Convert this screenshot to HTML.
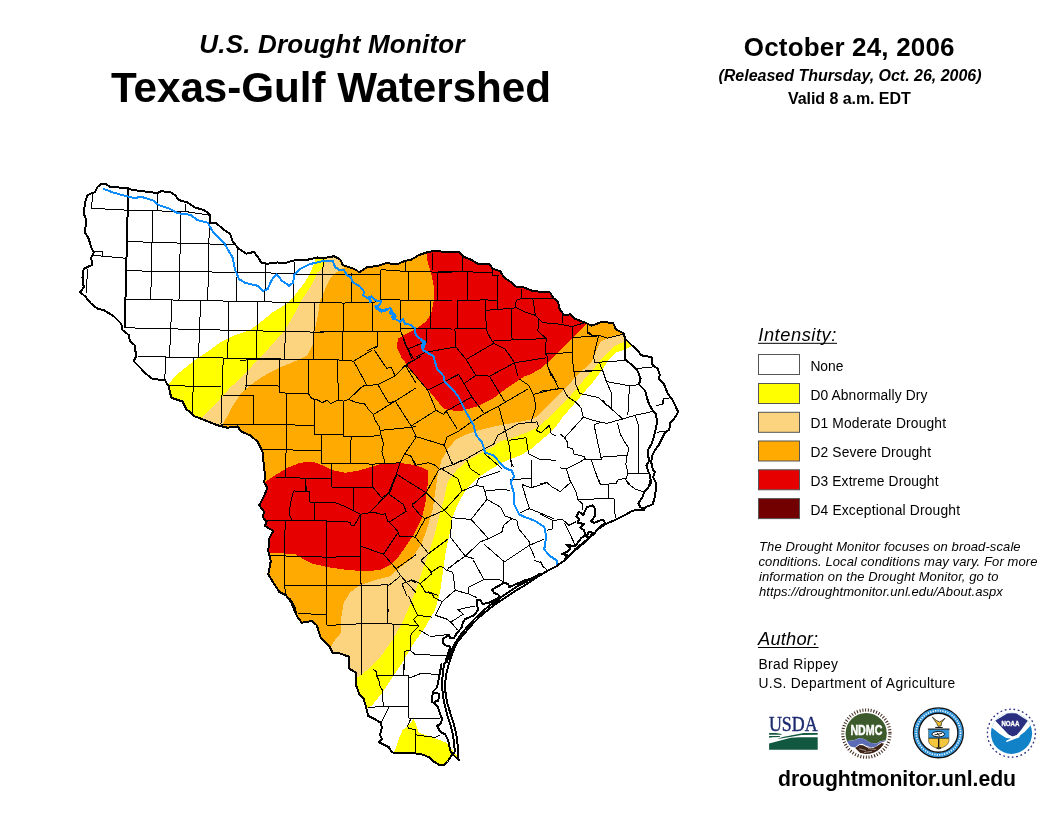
<!DOCTYPE html>
<html lang="en">
<head>
<meta charset="utf-8">
<title>U.S. Drought Monitor - Texas-Gulf Watershed</title>
<style>
html,body{margin:0;padding:0;background:#fff;}
body{width:1056px;height:816px;position:relative;overflow:hidden;font-family:"Liberation Sans",Arial,sans-serif;color:#000;}
.t{position:absolute;white-space:nowrap;line-height:1;}
.c{text-align:center;}
.map{position:absolute;left:0;top:0;}
.cty{fill:none;stroke:#000;stroke-width:1;stroke-linejoin:round;shape-rendering:crispEdges;}
.med{fill:none;stroke:#000;stroke-width:2;shape-rendering:crispEdges;}
.riv{fill:none;stroke:#0a8cff;stroke-width:2;stroke-linejoin:round;stroke-linecap:round;shape-rendering:crispEdges;}
.riv2{fill:none;stroke:#0a8cff;shape-rendering:crispEdges;stroke-width:3;stroke-linejoin:round;stroke-linecap:round;}
.thk{fill:none;stroke:#000;stroke-width:2;stroke-linejoin:round;stroke-linecap:round;shape-rendering:crispEdges;}
.out{fill:none;stroke:#000;stroke-width:2;stroke-linejoin:round;shape-rendering:crispEdges;}
.gap{fill:none;stroke:#fff;stroke-width:1.2;stroke-linecap:round;stroke-linejoin:round;}
.sw{position:absolute;left:758px;width:40px;height:19px;border:1px solid #333;}
.lb{font-size:13.3px;left:810px;}
u{text-decoration:underline;text-decoration-thickness:1px;text-underline-offset:2px;}
</style>
</head>
<body>
<svg class="map" width="1056" height="816" viewBox="0 0 1056 816">
<defs><clipPath id="basin"><polygon points="101.25,183.75 106.25,184.25 110.00,187.00 127.50,188.00 132.50,190.00 157.50,193.00 161.25,191.25 170.00,192.00 175.00,195.00 178.75,200.00 187.50,202.50 195.00,207.50 203.75,210.00 210.00,214.50 210.00,222.50 216.25,223.00 222.50,228.75 230.00,233.75 232.50,241.25 238.75,248.75 246.25,253.75 253.75,252.00 257.50,256.25 261.25,262.50 267.50,263.75 277.50,262.50 285.00,263.00 293.75,260.50 306.25,260.00 317.50,257.50 324.00,258.00 334.00,256.25 340.25,259.50 342.75,265.00 350.25,267.50 356.50,270.00 359.00,272.50 366.50,267.50 379.00,265.50 386.50,263.00 396.50,264.50 404.00,261.25 411.50,259.50 419.00,255.00 426.50,252.50 435.25,250.50 444.00,252.00 459.00,252.00 462.75,256.25 471.50,260.00 479.00,264.50 489.00,263.75 492.75,268.75 500.25,271.25 504.00,277.50 511.50,282.50 516.50,287.00 524.00,287.50 531.50,290.50 541.50,292.00 550.25,292.50 553.00,297.60 558.20,302.20 559.80,309.80 564.30,315.00 570.40,314.30 575.00,318.90 585.60,322.70 591.70,325.70 600.80,322.20 613.00,322.70 616.00,329.50 623.60,333.30 625.10,338.60 631.20,344.70 637.30,350.00 641.10,355.30 646.40,356.10 651.70,357.60 652.50,364.50 657.80,369.00 660.00,375.10 658.50,378.10 663.90,384.20 667.70,393.30 672.50,400.00 675.00,405.00 678.10,411.90 675.00,417.50 670.00,423.10 669.40,429.40 665.00,432.50 661.90,438.75 658.75,445.00 655.00,450.00 651.90,456.25 651.25,462.50 653.10,470.00 655.00,471.90 653.10,477.50 656.25,483.10 655.60,491.25 654.40,498.75 652.50,504.40 646.25,506.90 643.75,510.00 632.50,510.60 625.00,515.00 615.00,520.00 605.00,524.40 598.75,528.75 593.75,533.75 587.50,540.00 580.00,546.25 572.50,552.50 565.00,560.00 556.25,566.25 547.50,570.90 540.00,575.25 532.50,580.25 525.00,585.25 517.50,589.60 510.00,594.60 502.50,599.60 495.00,604.60 487.50,610.25 480.00,616.50 472.50,624.00 465.00,632.75 457.50,642.00 452.50,652.50 448.75,664.00 446.25,674.00 445.00,684.00 445.60,694.00 447.50,704.00 450.60,714.00 453.75,724.00 456.25,734.00 457.50,744.00 458.10,756.50 458.75,760.25 452.50,754.00 447.50,761.50 443.10,765.50 438.75,764.60 433.75,761.50 428.75,757.10 422.50,754.60 415.00,753.40 407.50,752.75 402.50,753.40 396.25,753.40 391.90,752.10 388.75,747.10 383.75,744.60 378.75,742.10 381.90,739.00 380.00,735.25 381.90,727.75 380.60,722.75 376.70,720.20 368.30,716.00 365.80,706.00 363.30,697.70 359.20,694.30 355.80,684.30 355.80,672.70 349.20,668.50 349.20,656.80 340.00,653.50 332.50,652.70 329.20,646.00 320.80,637.70 316.70,625.20 311.70,621.00 301.70,622.70 296.70,616.00 294.20,606.00 290.00,599.30 295.00,612.00 291.70,602.70 285.80,595.20 279.20,591.80 273.30,582.70 268.30,574.30 270.80,561.00 268.30,551.00 269.20,538.50 273.30,531.00 265.00,526.00 266.70,521.80 262.50,516.80 264.20,511.80 259.20,505.20 263.30,497.70 267.50,487.70 264.20,482.70 265.00,476.00 263.75,464.00 262.50,451.50 257.50,441.50 250.00,435.25 241.25,431.50 237.50,426.50 227.50,427.75 217.50,425.25 205.00,420.25 195.00,416.50 186.25,409.00 182.50,401.50 171.25,397.75 168.75,386.50 165.00,380.25 152.50,379.00 146.25,374.00 140.00,367.50 133.75,361.25 136.25,356.25 134.50,345.00 130.00,341.25 128.75,335.00 122.50,330.00 121.25,323.75 113.75,316.25 103.75,310.00 97.50,308.75 91.25,303.75 85.00,296.25 80.00,292.00 83.75,287.50 82.50,277.50 83.75,268.75 92.00,265.00 91.25,257.50 93.75,252.50 91.25,247.50 88.75,238.75 85.00,232.50 86.25,220.00 83.75,213.75 85.00,202.50 87.50,195.00 95.00,192.00 97.50,187.00"/></clipPath></defs>
<g clip-path="url(#basin)" shape-rendering="crispEdges">
<polygon points="316.00,240.00 315.00,261.25 310.00,273.75 303.75,283.75 295.00,295.00 285.00,305.00 272.50,312.50 260.00,322.50 250.00,330.00 235.00,335.00 220.00,342.50 210.00,350.00 195.00,360.00 177.50,374.00 167.50,385.00 100.00,420.00 150.00,500.00 240.00,640.00 340.00,720.00 367.50,707.50 372.50,705.00 382.50,692.50 392.50,677.50 402.50,662.50 412.50,645.00 425.00,627.50 435.00,610.00 440.00,592.50 442.50,575.00 445.25,554.00 449.50,534.00 452.75,516.50 459.00,501.50 466.50,489.00 476.50,479.00 489.00,470.25 502.50,462.50 511.25,458.75 521.25,455.00 531.25,448.75 540.00,441.25 547.50,435.00 555.00,427.50 562.50,417.50 570.00,408.75 577.50,400.00 585.00,391.25 592.50,382.50 600.00,372.50 605.00,365.50 609.90,358.40 616.00,352.30 624.30,350.00 632.00,346.00 650.00,330.00 640.00,240.00" fill="#ffff00"/>
<polygon points="413.75,719.00 416.25,725.25 418.75,732.75 430.00,736.50 440.00,740.25 446.25,742.75 455.00,753.38 462.50,759.00 447.50,769.00 422.50,764.00 392.50,756.50 393.75,752.75 395.00,750.25 398.75,739.00 402.50,730.25 407.50,726.50" fill="#ffff00"/>
<polygon points="327.00,240.00 326.00,259.00 324.00,266.25 317.50,272.50 310.00,287.50 300.00,302.50 293.75,315.00 285.00,330.00 275.00,341.25 265.00,352.50 255.00,362.50 245.00,374.00 230.00,387.75 220.00,399.00 207.50,411.50 200.00,419.00 150.00,450.00 240.00,640.00 340.00,700.00 356.25,680.00 357.50,677.50 367.50,670.00 380.00,657.50 392.50,640.00 402.50,622.50 410.00,605.00 417.50,585.00 422.50,570.00 426.50,559.00 434.00,536.50 439.00,516.50 444.00,499.00 447.75,481.50 456.50,470.25 466.50,461.50 479.00,454.00 494.00,446.50 500.00,441.25 510.00,438.75 520.00,435.00 530.00,431.25 538.75,426.25 547.50,418.75 555.00,411.25 562.50,403.75 570.00,396.25 577.50,387.50 585.00,378.75 592.50,370.00 598.75,362.50 602.00,358.00 608.40,352.30 614.50,346.20 622.80,342.40 628.00,340.00 650.00,320.00 640.00,240.00" fill="#fcd37f"/>
<polygon points="336.00,240.00 336.00,257.00 340.00,262.50 343.75,267.50 336.25,272.50 331.25,276.90 327.50,283.75 323.75,292.50 320.00,301.00 318.00,315.00 315.00,330.00 312.50,345.00 307.50,355.00 295.00,361.25 280.00,367.50 267.00,374.00 255.00,381.50 242.50,391.50 232.50,406.50 223.75,422.75 200.00,440.00 240.00,620.00 320.00,660.00 331.25,646.25 335.00,640.00 341.25,632.50 341.25,617.50 343.75,602.50 350.00,592.50 360.00,585.00 375.00,580.00 390.00,576.25 400.00,567.50 411.50,559.00 421.50,544.00 427.75,526.50 432.75,509.00 435.25,491.50 437.75,474.00 441.50,460.25 447.75,449.00 456.50,439.00 466.70,434.20 476.70,430.80 490.00,427.50 503.30,424.50 510.00,423.50 518.75,421.90 528.75,420.00 536.25,416.90 543.75,410.00 552.50,401.25 560.00,393.75 567.50,386.25 575.00,377.50 585.00,368.10 591.25,362.50 593.50,358.00 596.20,350.80 600.80,341.70 606.90,338.60 614.50,335.60 622.80,334.00 630.00,333.00 640.00,300.00 600.00,240.00" fill="#ffaa00"/>
<polygon points="426.50,240.00 426.50,253.75 427.75,262.50 431.50,275.00 434.00,287.50 434.00,300.00 431.50,312.50 426.50,321.25 416.50,328.75 406.50,333.75 397.75,338.75 397.00,347.50 401.50,357.50 409.00,367.50 414.00,374.00 426.50,387.75 444.00,409.00 459.00,411.50 476.50,406.50 494.00,397.75 509.00,386.50 524.00,376.50 531.00,374.00 540.00,369.00 549.10,361.40 558.20,352.30 567.40,343.20 576.50,334.00 585.60,325.00 600.00,310.00 560.00,260.00" fill="#e60000"/>
<polygon points="250.00,481.50 266.00,481.50 275.00,475.25 287.50,467.75 300.00,462.75 312.50,461.50 322.50,465.25 332.50,470.25 345.00,472.75 360.00,470.25 384.00,463.00 399.00,462.75 416.50,465.25 427.75,470.25 427.75,484.00 425.25,504.00 421.50,519.00 414.00,534.00 404.00,549.00 397.50,558.00 390.00,565.00 380.00,570.00 365.00,571.25 347.50,570.00 330.00,567.50 312.50,563.75 305.00,560.25 295.00,554.00 269.50,552.75 250.00,552.00" fill="#e60000"/>
</g>
<g clip-path="url(#basin)">
<polyline class="cty" points="91.48,208.27 128.98,210.27"/>
<polyline class="cty" points="92.73,194.02 91.48,208.27"/>
<polyline class="cty" points="92.23,255.27 126.48,258.27"/>
<polyline class="cty" points="87.73,268.77 86.03,293.27"/>
<polyline class="cty" points="93.98,251.27 102.73,251.77 102.73,256.27"/>
<polyline class="cty" points="128.98,210.27 185.23,211.52 210.23,215.27"/>
<polyline class="cty" points="127.23,241.52 235.23,244.77"/>
<polyline class="cty" points="125.73,270.77 265.23,272.77 293.98,274.02 351.23,274.27"/>
<polyline class="cty" points="124.73,299.02 285.23,302.27 324.23,302.27"/>
<polyline class="cty" points="124.73,327.77 285.23,331.52 324.23,332.27"/>
<polyline class="cty" points="137.73,356.52 324.23,359.77"/>
<polyline class="cty" points="157.73,193.27 157.73,210.27"/>
<polyline class="cty" points="185.23,204.02 185.23,211.52"/>
<polyline class="cty" points="152.73,210.77 150.73,299.77"/>
<polyline class="cty" points="180.98,211.52 178.98,300.27"/>
<polyline class="cty" points="209.48,215.27 207.73,300.77"/>
<polyline class="cty" points="237.73,244.77 236.48,301.52"/>
<polyline class="cty" points="265.73,264.02 264.73,301.52"/>
<polyline class="cty" points="294.48,261.52 293.48,302.27"/>
<polyline class="cty" points="323.23,257.77 322.23,302.27"/>
<polyline class="cty" points="171.98,300.27 170.73,329.02 169.48,357.77"/>
<polyline class="cty" points="200.73,300.77 199.48,329.77 198.48,358.27"/>
<polyline class="cty" points="228.98,301.52 228.23,330.27 227.73,358.77"/>
<polyline class="cty" points="257.73,302.02 256.98,331.02 256.48,359.27"/>
<polyline class="cty" points="285.98,302.27 285.23,331.52 284.73,359.77"/>
<polyline class="cty" points="314.73,302.77 313.98,332.27 313.48,360.27"/>
<polyline class="cty" points="165.73,357.77 164.73,380.27"/>
<polyline class="cty" points="193.83,358.27 193.23,386.27 192.23,415.27"/>
<polyline class="cty" points="223.23,358.77 222.73,374.27 220.98,424.27"/>
<polyline class="cty" points="167.73,385.52 193.98,386.27 221.48,386.77"/>
<polyline class="cty" points="222.73,395.52 253.48,395.52"/>
<polyline class="cty" points="221.48,424.27 253.98,424.27"/>
<polyline class="cty" points="305.23,478.02 306.48,490.52"/>
<polyline class="cty" points="593.43,335.87 598.73,335.07"/>
<polyline class="cty" points="588.13,332.07 593.43,335.87"/>
<polyline class="cty" points="598.73,335.07 607.13,338.17 623.03,334.27"/>
<polyline class="cty" points="598.73,335.07 593.43,357.17 594.93,362.47 624.53,360.47"/>
<polyline class="cty" points="602.53,370.07 599.53,363.27"/>
<polyline class="cty" points="602.53,370.07 606.33,381.47 611.63,393.57 610.93,408.77"/>
<polyline class="cty" points="606.33,381.47 629.93,385.97 639.03,384.47"/>
<polyline class="cty" points="629.93,385.97 628.33,399.67"/>
<polyline class="cty" points="574.43,371.57 575.93,384.47 579.73,393.57 598.03,397.37 611.63,408.77"/>
<polyline class="cty" points="540.23,391.27 563.03,388.27 567.63,396.67 576.73,402.77"/>
<polyline class="cty" points="547.83,367.77 558.43,387.57"/>
<polyline class="cty" points="635.93,368.57 652.73,366.97"/>
<polyline class="cty" points="661.83,403.47 663.33,398.97 669.43,398.17"/>
<polyline class="cty" points="663.13,403.67 664.03,400.27"/>
<polyline class="cty" points="403.56,340.27 411.90,358.60"/>
<polyline class="cty" points="406.06,364.44 421.06,356.10"/>
<polyline class="cty" points="476.06,375.27 489.40,376.10"/>
<polyline class="cty" points="427.73,390.27 458.56,374.44"/>
<polyline class="cty" points="465.23,382.77 476.06,375.27"/>
<polyline class="cty" points="446.06,411.10 471.90,396.94"/>
<polyline class="cty" points="411.06,426.10 436.06,410.27 443.56,414.44 446.06,411.10"/>
<polyline class="cty" points="484.40,413.60 498.56,406.10 528.56,388.60"/>
<polyline class="cty" points="446.90,436.94 458.56,431.10 472.73,421.10 484.40,413.60"/>
<polyline class="cty" points="533.56,394.44 556.23,388.60"/>
<polyline class="cty" points="406.06,364.44 427.73,390.27 436.06,410.27"/>
<polyline class="cty" points="458.56,374.44 471.90,396.94 484.40,413.60"/>
<polyline class="cty" points="489.40,376.10 504.40,401.10"/>
<polyline class="cty" points="446.06,411.10 456.90,428.60"/>
<polyline class="cty" points="498.56,406.10 505.23,430.27 509.40,446.94 511.90,466.94"/>
<polyline class="cty" points="518.56,378.60 528.56,385.27 533.56,395.27 536.06,406.94 531.06,421.94"/>
<polyline class="cty" points="548.56,368.60 556.23,381.94"/>
<polyline class="cty" points="414.40,436.10 444.40,445.27 452.73,465.27"/>
<polyline class="cty" points="444.40,445.27 446.90,436.94"/>
<polyline class="cty" points="453.56,464.44 465.23,459.44 484.40,448.60 493.56,444.44 497.73,435.27 505.23,431.10 518.56,423.60 536.90,421.94 538.56,426.10 536.06,430.27"/>
<polyline class="cty" points="509.40,440.27 526.06,437.77 528.56,453.60"/>
<polyline class="cty" points="528.56,453.60 540.23,459.44 556.23,460.27"/>
<polyline class="cty" points="536.06,430.27 541.06,432.77 549.40,425.27 551.06,433.60 556.23,436.10"/>
<polyline class="cty" points="484.40,453.60 501.90,468.60"/>
<polyline class="cty" points="427.73,591.52 437.73,595.27"/>
<polyline class="cty" points="426.06,492.77 444.40,510.27 451.90,517.77 471.06,519.44 488.56,538.60"/>
<polyline class="cty" points="484.40,544.44 504.40,561.94"/>
<polyline class="cty" points="411.90,505.27 426.06,492.77 438.56,470.27 441.06,468.60"/>
<polyline class="cty" points="444.40,510.27 461.90,491.10 476.06,485.27 478.56,478.60 500.23,471.10"/>
<polyline class="cty" points="441.06,468.60 457.73,478.60 461.90,491.10"/>
<polyline class="cty" points="471.06,519.44 486.90,499.44 483.56,486.94 476.06,485.27"/>
<polyline class="cty" points="486.90,499.44 500.23,506.94 505.23,516.10 516.90,520.27"/>
<polyline class="cty" points="485.23,491.10 500.23,489.44 510.23,490.27"/>
<polyline class="cty" points="450.23,536.94 451.90,520.27"/>
<polyline class="cty" points="450.23,536.94 465.23,556.10 480.23,541.94 488.56,538.60 501.90,531.94 503.56,525.27 511.90,518.60"/>
<polyline class="cty" points="447.73,568.60 465.23,556.10"/>
<polyline class="cty" points="465.23,556.10 473.56,558.60"/>
<polyline class="cty" points="504.40,561.94 529.40,545.27 543.56,539.44"/>
<polyline class="cty" points="516.90,520.27 518.56,528.60 529.40,541.94 529.40,545.27 535.23,558.60"/>
<polyline class="cty" points="529.40,508.60 553.56,518.60"/>
<polyline class="cty" points="521.90,484.44 529.40,508.60 518.56,513.60"/>
<polyline class="cty" points="521.90,484.44 531.06,487.77 546.90,482.77"/>
<polyline class="cty" points="531.06,460.27 531.06,487.77"/>
<polyline class="cty" points="510.23,479.44 531.06,478.60"/>
<polyline class="cty" points="510.23,460.27 513.56,466.94"/>
<polyline class="cty" points="466.90,460.27 470.23,468.60 480.23,475.27"/>
<polyline class="cty" points="450.23,460.27 453.56,464.44 461.90,460.27"/>
<polyline class="cty" points="411.90,505.27 420.23,515.27 425.23,518.60 444.40,510.27"/>
<polyline class="cty" points="425.23,518.60 415.23,536.94"/>
<polyline class="cty" points="396.90,474.44 426.06,492.77"/>
<polyline class="cty" points="396.90,474.44 389.40,493.60"/>
<polyline class="cty" points="411.06,579.44 420.23,583.60"/>
<polyline class="cty" points="415.23,536.94 428.56,553.60 421.06,560.27 431.90,572.77"/>
<polyline class="cty" points="428.56,553.60 448.56,538.60"/>
<polyline class="cty" points="420.23,583.60 431.90,573.60"/>
<polyline class="cty" points="420.23,583.60 425.23,591.94 431.90,593.60 433.56,596.27"/>
<polyline class="cty" points="412.73,460.27 415.23,465.27 428.56,462.77 435.23,465.27"/>
<polyline class="cty" points="240.23,360.27 247.73,359.94 279.40,359.94 308.56,359.94 337.73,359.94 353.56,361.10"/>
<polyline class="cty" points="245.23,385.27 263.56,385.27 279.40,386.10"/>
<polyline class="cty" points="279.40,392.77 286.90,393.10 308.56,393.94"/>
<polyline class="cty" points="240.23,395.60 253.56,395.60"/>
<polyline class="cty" points="240.23,424.44 253.56,424.10 286.90,424.77 314.40,425.60"/>
<polyline class="cty" points="314.40,434.44 343.56,434.77"/>
<polyline class="cty" points="343.56,436.60 351.06,436.94 380.23,435.77"/>
<polyline class="cty" points="262.73,449.94 286.06,449.94 321.40,450.27"/>
<polyline class="cty" points="321.40,463.60 331.06,463.94 351.06,463.60 372.73,464.10 385.23,463.60 400.23,462.77"/>
<polyline class="cty" points="276.06,477.77 286.06,477.77 306.06,478.10 331.56,478.10"/>
<polyline class="cty" points="256.06,350.27 256.06,359.94"/>
<polyline class="cty" points="284.90,350.27 284.90,359.94"/>
<polyline class="cty" points="313.56,350.27 313.56,359.94"/>
<polyline class="cty" points="342.23,350.27 342.23,359.94"/>
<polyline class="cty" points="247.73,359.94 246.56,385.27 245.23,389.44"/>
<polyline class="cty" points="279.40,359.94 279.73,392.77"/>
<polyline class="cty" points="308.56,359.94 308.56,393.94"/>
<polyline class="cty" points="337.73,359.94 338.23,399.94"/>
<polyline class="cty" points="253.56,395.60 253.56,424.10"/>
<polyline class="cty" points="286.90,393.10 286.56,424.77 286.06,449.94 285.73,477.77"/>
<polyline class="cty" points="314.40,399.44 314.73,434.44"/>
<polyline class="cty" points="343.56,401.10 343.56,436.60"/>
<polyline class="cty" points="321.90,434.77 321.40,463.60"/>
<polyline class="cty" points="351.06,436.94 350.73,463.60"/>
<polyline class="cty" points="331.56,463.94 331.56,486.27"/>
<polyline class="cty" points="306.06,478.10 305.73,486.27"/>
<polyline class="cty" points="372.73,464.10 372.73,486.27"/>
<polyline class="cty" points="308.56,393.94 311.90,398.60 318.56,400.27 321.90,402.77 326.90,400.27 331.06,403.60 338.23,399.94 343.56,401.10 348.56,399.44 356.90,402.77 364.40,403.60 368.56,409.44 372.73,413.60 375.23,420.27 379.40,426.94 381.06,435.27 383.56,443.60 381.90,451.94 385.23,463.60"/>
<polyline class="cty" points="353.56,361.10 371.90,350.27"/>
<polyline class="cty" points="348.56,399.44 362.73,386.10 377.73,384.44 395.23,376.10 405.23,365.27 416.23,359.44"/>
<polyline class="cty" points="373.56,414.44 395.23,401.10 416.23,387.77"/>
<polyline class="cty" points="381.06,430.27 411.90,427.27 416.23,426.10"/>
<polyline class="cty" points="391.90,486.27 400.23,462.77 404.40,454.44 416.23,436.94"/>
<polyline class="cty" points="353.56,361.10 366.90,385.27 362.73,386.10"/>
<polyline class="cty" points="374.40,350.27 386.90,368.60 391.06,366.94 395.23,376.10"/>
<polyline class="cty" points="377.73,384.44 388.56,402.77 395.23,401.10"/>
<polyline class="cty" points="395.23,401.10 411.90,427.27 416.23,436.94"/>
<polyline class="cty" points="405.23,365.27 416.23,383.60"/>
<polyline class="cty" points="404.40,454.44 410.23,455.27 416.23,465.27"/>
<polyline class="cty" points="408.56,350.27 413.56,358.60"/>
<polyline class="cty" points="437.90,271.44 467.90,271.94 492.90,272.27"/>
<polyline class="cty" points="492.90,269.44 492.90,275.27 498.73,275.77"/>
<polyline class="cty" points="457.90,300.27 485.40,299.94 497.90,300.27"/>
<polyline class="cty" points="486.23,310.27 497.90,309.44 516.23,307.77"/>
<polyline class="cty" points="454.90,328.60 486.23,328.27"/>
<polyline class="cty" points="492.06,341.10 512.06,339.94 546.23,338.60"/>
<polyline class="cty" points="546.23,353.60 559.56,353.27 572.06,352.27"/>
<polyline class="cty" points="514.56,362.77 546.23,357.77"/>
<polyline class="cty" points="522.06,298.60 532.90,298.94 552.90,298.60"/>
<polyline class="cty" points="538.73,318.60 542.90,322.77 556.23,323.60 572.06,326.60"/>
<polyline class="cty" points="462.06,256.10 462.06,271.44"/>
<polyline class="cty" points="467.90,272.27 467.90,299.94"/>
<polyline class="cty" points="497.90,276.10 497.90,309.44"/>
<polyline class="cty" points="457.90,300.27 457.90,328.27"/>
<polyline class="cty" points="485.40,299.94 486.23,328.27 487.90,333.60 492.06,341.10"/>
<polyline class="cty" points="511.23,308.60 512.06,339.94"/>
<polyline class="cty" points="454.90,328.60 455.90,346.94 466.23,359.44 476.23,376.27"/>
<polyline class="cty" points="521.56,289.44 521.56,298.60 516.23,300.27 515.40,306.94 524.56,311.94 535.40,315.27 538.73,318.60 537.90,331.10 546.23,338.60 545.40,353.60 547.90,357.77 547.90,366.94 551.23,376.27"/>
<polyline class="cty" points="532.90,298.94 535.40,315.27"/>
<polyline class="cty" points="562.90,313.60 562.90,322.77"/>
<polyline class="cty" points="572.06,326.60 572.06,352.27 573.73,371.94"/>
<polyline class="cty" points="573.73,371.94 592.23,371.10"/>
<polyline class="cty" points="587.90,325.27 587.90,333.60 592.23,335.27"/>
<polyline class="cty" points="416.23,356.94 425.73,352.27 455.90,346.94"/>
<polyline class="cty" points="466.23,359.44 493.73,343.27 492.06,341.10"/>
<polyline class="cty" points="493.73,343.27 504.56,348.60 509.56,355.27 514.56,362.77 517.90,376.27"/>
<polyline class="cty" points="489.56,376.27 514.56,362.77"/>
<polyline class="cty" points="572.06,326.60 584.56,322.77"/>
<polyline class="cty" points="454.56,376.27 459.56,373.60"/>
<polyline class="cty" points="331.90,487.10 353.56,487.60 372.73,487.10"/>
<polyline class="cty" points="293.56,490.94 309.40,491.60 309.90,502.10 336.06,502.94 343.56,505.94 360.23,514.27"/>
<polyline class="cty" points="266.90,520.94 285.23,520.94 314.40,520.44 326.06,520.94 340.23,521.60 350.23,522.10 351.06,525.44 354.40,525.44 360.23,514.94"/>
<polyline class="cty" points="270.23,555.94 284.40,555.94 305.23,556.60 326.06,557.10 360.23,556.77"/>
<polyline class="cty" points="285.23,585.44 326.90,585.77 361.06,585.44 373.56,585.44 387.73,584.60"/>
<polyline class="cty" points="306.06,477.60 305.73,490.94"/>
<polyline class="cty" points="331.06,477.10 331.90,487.10"/>
<polyline class="cty" points="372.73,476.27 372.73,487.10 381.90,497.94 388.56,492.94 395.23,476.27"/>
<polyline class="cty" points="353.56,487.60 353.90,509.60"/>
<polyline class="cty" points="293.56,490.94 290.23,504.60 289.40,514.60 291.90,520.44"/>
<polyline class="cty" points="314.40,502.94 314.73,520.44"/>
<polyline class="cty" points="285.23,520.94 284.40,555.94 284.90,585.44 285.23,594.60"/>
<polyline class="cty" points="326.06,520.94 326.06,557.10 326.90,585.77 326.90,612.27"/>
<polyline class="cty" points="360.23,514.27 360.56,546.27 360.56,556.77 361.06,585.44 361.06,612.27"/>
<polyline class="cty" points="387.73,584.60 388.06,612.27"/>
<polyline class="cty" points="360.23,514.27 373.56,512.10 381.90,514.60 385.23,513.77 387.73,521.27 389.40,522.10"/>
<polyline class="cty" points="369.40,512.94 381.90,499.60 388.56,493.77"/>
<polyline class="cty" points="388.56,493.77 403.56,504.60 406.06,511.27 389.40,522.10"/>
<polyline class="cty" points="411.90,504.60 416.23,501.27"/>
<polyline class="cty" points="389.40,522.10 397.73,531.27 399.40,536.27 416.23,537.10"/>
<polyline class="cty" points="397.73,532.94 383.56,554.27 361.06,546.27"/>
<polyline class="cty" points="383.56,554.27 396.06,568.77 401.06,576.27 416.23,592.94"/>
<polyline class="cty" points="400.23,576.27 387.73,586.27"/>
<polyline class="cty" points="396.06,568.77 416.23,554.60"/>
<polyline class="cty" points="401.90,583.77 411.06,580.44 416.23,582.94"/>
<polyline class="cty" points="401.90,583.77 407.06,596.27"/>
<polyline class="cty" points="326.90,596.27 326.56,625.44"/>
<polyline class="cty" points="361.06,596.27 361.06,623.77 361.56,669.60 361.56,674.60"/>
<polyline class="cty" points="387.73,596.27 387.73,623.27"/>
<polyline class="cty" points="393.90,624.27 393.90,675.44"/>
<polyline class="cty" points="408.56,596.27 417.73,615.44 413.56,619.60 418.56,626.27 411.06,633.77 410.56,650.44 404.40,651.27 403.90,675.44"/>
<polyline class="cty" points="297.73,613.77 326.56,614.27"/>
<polyline class="cty" points="326.56,625.44 361.06,623.77 387.73,623.27 393.90,624.27 418.56,625.44"/>
<polyline class="cty" points="410.56,650.44 415.23,654.60 445.23,655.44"/>
<polyline class="cty" points="418.56,629.60 428.56,635.44"/>
<polyline class="cty" points="417.73,615.44 431.90,617.10"/>
<polyline class="cty" points="430.23,572.77 439.61,566.52 442.73,567.14 446.48,570.27 458.36,560.27"/>
<polyline class="cty" points="446.48,570.27 452.73,572.14 455.23,590.27 468.98,594.02 477.11,597.77"/>
<polyline class="cty" points="455.23,590.27 442.11,601.52 435.23,615.27"/>
<polyline class="cty" points="435.23,615.27 446.48,619.02 450.86,622.14 457.73,630.27"/>
<polyline class="cty" points="450.86,622.14 463.36,614.02 457.73,609.64 475.23,605.89"/>
<polyline class="cty" points="468.98,594.02 468.98,587.14 483.98,579.64 473.36,560.27"/>
<polyline class="cty" points="483.98,579.64 498.36,579.02 503.98,582.14"/>
<polyline class="cty" points="503.98,560.27 503.98,582.14"/>
<polyline class="cty" points="533.98,560.27 541.48,562.77 542.73,566.52"/>
<polyline class="cty" points="430.23,636.52 442.73,635.27 448.98,634.02"/>
<polyline class="cty" points="430.23,655.27 446.48,655.89"/>
<polyline class="cty" points="430.23,592.77 432.73,593.39 433.36,597.14 438.98,600.27 442.11,601.52"/>
<polyline class="cty" points="393.98,664.27 393.98,674.89"/>
<polyline class="cty" points="403.98,664.27 403.98,675.27"/>
<polyline class="cty" points="376.48,675.52 408.98,675.52 408.98,718.02"/>
<polyline class="cty" points="373.36,669.27 376.48,671.77 376.48,675.52 378.98,680.52 380.23,686.77 382.73,690.52 383.11,706.14"/>
<polyline class="cty" points="368.36,707.39 383.11,706.52 408.98,706.77"/>
<polyline class="cty" points="388.98,707.39 381.48,721.77"/>
<polyline class="cty" points="408.98,678.02 417.73,674.89 420.23,673.64 438.98,674.27"/>
<polyline class="cty" points="408.98,718.02 439.61,718.27"/>
<polyline class="cty" points="410.86,718.64 407.73,725.52 408.36,728.64 415.23,729.27 415.86,753.64"/>
<polyline class="cty" points="415.86,734.89 425.23,736.14 435.23,737.39 440.23,734.89"/>
<polyline class="cty" points="576.48,402.77 580.86,407.77 583.36,417.14 592.73,420.27 606.48,423.39 622.73,419.02 635.23,415.27 652.73,411.52"/>
<polyline class="cty" points="583.36,417.14 564.61,437.77 560.23,434.02"/>
<polyline class="cty" points="564.61,437.77 567.11,441.52 567.73,447.14 572.73,449.02 573.98,454.02 583.98,456.52 585.23,459.02 566.48,469.02 560.23,467.77"/>
<polyline class="cty" points="566.48,469.02 570.23,481.52"/>
<polyline class="cty" points="593.98,424.64 601.48,422.14 606.48,423.39"/>
<polyline class="cty" points="593.98,424.64 600.86,457.14 601.48,459.02 585.23,459.64"/>
<polyline class="cty" points="600.86,457.14 627.73,455.27"/>
<polyline class="cty" points="617.73,423.39 620.23,434.02 625.23,442.77 628.98,448.39 627.11,455.27 625.86,464.02 627.73,472.77 626.48,479.02"/>
<polyline class="cty" points="627.73,474.02 638.98,473.39 649.61,473.39"/>
<polyline class="cty" points="635.23,415.27 638.36,425.27 638.98,473.39"/>
<polyline class="cty" points="591.48,460.27 599.61,484.02"/>
<polyline class="cty" points="615.23,484.02 618.36,479.64 625.23,478.39 628.98,485.27"/>
<polyline class="cty" points="603.36,400.27 605.23,404.02 611.48,409.02 622.73,419.02"/>
<polyline class="cty" points="611.48,400.27 611.48,409.02"/>
<polyline class="cty" points="628.98,400.27 627.73,415.27"/>
<polyline class="cty" points="655.86,405.89 662.73,404.02 663.36,400.27"/>
<polyline class="cty" points="657.11,432.14 665.23,431.52"/>
<polyline class="cty" points="540.23,484.02 546.48,482.14 551.48,486.52 560.23,491.52 570.86,482.14 570.23,480.27"/>
<polyline class="cty" points="570.86,482.14 576.48,492.77 577.73,499.64 582.73,504.02 582.11,510.27"/>
<polyline class="cty" points="577.73,499.64 593.98,499.02 613.98,498.39 615.23,517.77"/>
<polyline class="cty" points="608.36,484.02 608.73,498.39"/>
<polyline class="cty" points="598.98,480.27 600.23,484.02 608.36,484.02 616.48,483.39 617.73,480.27"/>
<polyline class="cty" points="626.48,480.27 630.23,485.27 635.23,489.02 643.98,492.14"/>
<polyline class="cty" points="540.23,514.02 552.73,520.27 562.73,519.64 568.98,525.27 576.48,521.52"/>
<polyline class="cty" points="552.73,520.27 552.11,529.02 547.11,530.27"/>
<polyline class="cty" points="564.61,522.77 575.23,545.27"/>
<polyline class="cty" points="540.23,561.52 542.73,566.52 547.11,569.64"/>
<polyline class="cty" points="320.23,274.64 351.48,274.64 380.86,274.64"/>
<polyline class="cty" points="380.86,269.64 407.73,271.52 437.73,272.14 452.23,272.52"/>
<polyline class="cty" points="320.23,302.77 343.36,303.02 372.73,302.77 380.86,299.64 400.86,300.02 430.23,300.27 452.23,300.27"/>
<polyline class="cty" points="320.23,331.52 343.36,331.52 377.73,331.52 400.86,331.52"/>
<polyline class="cty" points="400.86,328.39 413.98,328.39 430.23,328.77 452.23,329.02"/>
<polyline class="cty" points="322.73,270.89 322.73,302.14"/>
<polyline class="cty" points="351.48,272.77 351.48,302.14"/>
<polyline class="cty" points="380.86,269.64 380.86,299.64"/>
<polyline class="cty" points="408.98,271.52 408.98,299.64"/>
<polyline class="cty" points="437.73,272.14 437.73,300.27"/>
<polyline class="cty" points="432.11,253.40 432.11,270.27"/>
<polyline class="cty" points="405.23,262.14 405.23,271.52"/>
<polyline class="cty" points="343.36,303.02 343.36,331.52"/>
<polyline class="cty" points="372.73,302.77 372.73,331.52"/>
<polyline class="cty" points="400.86,300.02 400.86,331.52"/>
<polyline class="cty" points="430.23,300.27 430.23,328.77"/>
<polyline class="cty" points="342.73,331.52 342.73,352.27"/>
<polyline class="cty" points="377.73,331.52 377.73,346.52"/>
<polyline class="cty" points="400.86,331.52 407.73,349.02 410.23,352.27"/>
<polyline class="cty" points="367.11,350.89 377.73,345.89 373.98,349.02"/>
<polyline class="cty" points="407.73,349.02 421.48,343.39"/>
<polyline class="cty" points="426.48,329.02 426.48,342.77"/>
<polyline class="cty" points="572.13,337.37 593.43,336.47 599.23,335.77"/>
<polyline class="cty" points="574.43,371.57 602.53,370.07"/>
<polyline class="cty" points="435.23,465.27 439.43,469.47 453.53,464.47 465.23,459.47"/>
<polyline class="med" points="128.23,189.02 124.73,327.77"/>
</g>
<polyline class="riv" points="103.98,189.02 113.98,192.77 127.73,196.52 135.23,198.27 140.23,196.52 152.73,200.27 158.98,205.27 170.23,209.02 177.73,213.27 190.23,214.77 197.73,220.27 207.73,222.77 212.73,231.52 223.98,242.77 232.73,257.77 235.23,270.27 238.98,279.02 245.23,282.77 252.73,284.77 257.73,285.77 262.73,291.02 267.73,289.02 271.48,280.27 276.48,274.02 281.48,280.27 288.98,285.77 293.23,282.77 293.98,275.27 300.23,269.02 310.23,264.02 324.23,260.77 332.73,260.87 335.23,267.17 338.98,269.67 343.98,270.27 347.13,275.27 350.83,277.17 352.73,282.17 360.23,286.52 363.98,291.52 363.33,295.27 369.63,299.67 371.48,296.52 375.23,300.27 381.48,301.52 378.98,305.27 375.83,308.37 381.48,311.52 386.48,310.27 390.23,307.77 392.73,312.77 395.23,315.27 391.48,317.17 397.73,320.27 400.23,322.17 402.73,319.02 405.23,324.02 410.23,324.67 415.23,328.37 414.63,332.17 417.13,336.52 421.48,339.67 425.23,341.52 422.13,345.27 423.33,350.27 427.73,352.77 430.23,354.47 433.53,356.07 436.93,368.57 443.53,376.07 444.43,381.07 453.53,390.27 458.53,396.97 463.53,406.97 466.93,413.57 473.53,425.27 476.03,435.27 481.93,441.97 485.23,452.77 493.53,455.27 503.53,466.97 508.53,469.47 511.73,470.52 514.23,476.77 510.48,481.77 514.23,494.27 514.23,504.27 519.23,514.27 524.23,516.77 534.23,520.52 544.23,526.77 546.23,536.77 544.23,549.27 549.23,555.52 556.73,560.52 556.73,565.52"/>
<polyline class="riv2" points="375.83,306.77 381.48,310.77 386.48,309.77"/>
<polyline class="riv2" points="390.23,312.77 395.23,316.27 393.23,318.27"/>
<polyline class="riv2" points="421.73,340.27 424.73,343.27 422.73,348.27"/>
<polyline class="riv2" points="369.63,297.27 370.23,301.27"/>
<polyline class="thk" points="624.53,335.87 624.83,358.67 631.43,364.77 637.53,370.77 640.53,378.37 639.03,384.47 645.13,390.57 647.73,400.27 649.63,405.27 652.73,410.27 655.83,414.02 657.13,421.52 655.83,429.02 653.98,436.52 651.48,444.02 647.73,450.27 647.73,455.27 649.63,460.27 646.48,465.27 647.73,470.27 650.23,475.27 650.83,482.77 649.23,486.27"/>
<polyline class="thk" points="492.11,589.64 503.98,582.77 508.36,584.02 508.98,587.14 517.73,583.39 525.23,580.27 530.23,579.02 537.73,575.27"/>
<polyline class="thk" points="492.11,589.64 493.98,592.77 498.36,594.64 498.98,597.77 488.98,602.77 482.73,604.02 480.23,600.27 477.11,600.27 477.73,610.27 473.98,615.27 465.23,619.02 462.73,622.77 461.48,627.77 457.11,632.77 453.98,637.77 450.23,638.39 448.98,635.27 443.36,638.39 442.73,642.77 446.48,645.89 450.23,646.52 448.98,651.52 446.48,657.77 445.86,662.27"/>
<polyline class="thk" points="539.73,573.87 532.23,578.12 524.73,582.47 517.23,586.27 509.73,591.27 502.23,596.27 497.23,600.62 488.48,606.27 482.23,611.87 474.73,618.77 467.23,626.87 460.98,634.37 455.68,642.27 450.68,652.27 446.93,661.77 444.03,663.77 442.73,674.27 442.03,684.27 442.73,694.27 444.53,704.27 447.03,714.27 450.23,724.27 452.73,734.27 454.33,744.27 454.73,751.77 452.83,754.27"/>
<polyline class="thk" points="441.48,664.27 439.61,674.27 437.73,684.27 436.48,688.02 432.73,691.77 432.11,701.77 435.23,704.27 437.73,706.77 440.23,714.27 442.11,719.27 440.23,724.27 437.11,725.52 440.23,731.77 445.23,734.27 447.73,739.27 448.98,744.27 450.23,750.52 452.11,753.64"/>
<polyline class="thk" points="435.23,693.02 438.98,693.64 438.36,700.52 434.61,701.77"/>
<polyline class="thk" points="592.73,505.27 587.11,507.14 584.61,511.52 583.36,515.27 578.98,511.52 576.48,516.52 578.98,519.02 577.73,522.77 583.98,524.02 580.23,527.77 583.98,530.27 585.23,535.27 581.48,537.77 577.73,542.77 575.23,546.52 566.48,544.64 570.23,548.39 567.73,551.52 562.11,554.02 567.11,555.27 565.23,559.02"/>
<polyline class="thk" points="592.73,505.27 595.23,509.02 594.61,516.52 590.86,521.52 593.98,522.77 602.73,519.64 605.23,522.77 598.98,527.77 593.98,534.02 587.73,539.02 581.48,544.02 575.23,549.02"/>
<polyline class="thk" points="588.98,531.52 592.73,532.77 590.23,536.52 586.48,536.52 588.98,531.52"/>
<polyline class="thk" points="650.23,480.27 648.98,486.52 643.98,492.77 642.73,496.52 638.36,503.39 640.23,507.14 643.98,508.39"/>
<polygon class="out" points="101.25,183.75 106.25,184.25 110.00,187.00 127.50,188.00 132.50,190.00 157.50,193.00 161.25,191.25 170.00,192.00 175.00,195.00 178.75,200.00 187.50,202.50 195.00,207.50 203.75,210.00 210.00,214.50 210.00,222.50 216.25,223.00 222.50,228.75 230.00,233.75 232.50,241.25 238.75,248.75 246.25,253.75 253.75,252.00 257.50,256.25 261.25,262.50 267.50,263.75 277.50,262.50 285.00,263.00 293.75,260.50 306.25,260.00 317.50,257.50 324.00,258.00 334.00,256.25 340.25,259.50 342.75,265.00 350.25,267.50 356.50,270.00 359.00,272.50 366.50,267.50 379.00,265.50 386.50,263.00 396.50,264.50 404.00,261.25 411.50,259.50 419.00,255.00 426.50,252.50 435.25,250.50 444.00,252.00 459.00,252.00 462.75,256.25 471.50,260.00 479.00,264.50 489.00,263.75 492.75,268.75 500.25,271.25 504.00,277.50 511.50,282.50 516.50,287.00 524.00,287.50 531.50,290.50 541.50,292.00 550.25,292.50 553.00,297.60 558.20,302.20 559.80,309.80 564.30,315.00 570.40,314.30 575.00,318.90 585.60,322.70 591.70,325.70 600.80,322.20 613.00,322.70 616.00,329.50 623.60,333.30 625.10,338.60 631.20,344.70 637.30,350.00 641.10,355.30 646.40,356.10 651.70,357.60 652.50,364.50 657.80,369.00 660.00,375.10 658.50,378.10 663.90,384.20 667.70,393.30 672.50,400.00 675.00,405.00 678.10,411.90 675.00,417.50 670.00,423.10 669.40,429.40 665.00,432.50 661.90,438.75 658.75,445.00 655.00,450.00 651.90,456.25 651.25,462.50 653.10,470.00 655.00,471.90 653.10,477.50 656.25,483.10 655.60,491.25 654.40,498.75 652.50,504.40 646.25,506.90 643.75,510.00 632.50,510.60 625.00,515.00 615.00,520.00 605.00,524.40 598.75,528.75 593.75,533.75 587.50,540.00 580.00,546.25 572.50,552.50 565.00,560.00 556.25,566.25 547.50,570.90 540.00,575.25 532.50,580.25 525.00,585.25 517.50,589.60 510.00,594.60 502.50,599.60 495.00,604.60 487.50,610.25 480.00,616.50 472.50,624.00 465.00,632.75 457.50,642.00 452.50,652.50 448.75,664.00 446.25,674.00 445.00,684.00 445.60,694.00 447.50,704.00 450.60,714.00 453.75,724.00 456.25,734.00 457.50,744.00 458.10,756.50 458.75,760.25 452.50,754.00 447.50,761.50 443.10,765.50 438.75,764.60 433.75,761.50 428.75,757.10 422.50,754.60 415.00,753.40 407.50,752.75 402.50,753.40 396.25,753.40 391.90,752.10 388.75,747.10 383.75,744.60 378.75,742.10 381.90,739.00 380.00,735.25 381.90,727.75 380.60,722.75 376.70,720.20 368.30,716.00 365.80,706.00 363.30,697.70 359.20,694.30 355.80,684.30 355.80,672.70 349.20,668.50 349.20,656.80 340.00,653.50 332.50,652.70 329.20,646.00 320.80,637.70 316.70,625.20 311.70,621.00 301.70,622.70 296.70,616.00 294.20,606.00 290.00,599.30 295.00,612.00 291.70,602.70 285.80,595.20 279.20,591.80 273.30,582.70 268.30,574.30 270.80,561.00 268.30,551.00 269.20,538.50 273.30,531.00 265.00,526.00 266.70,521.80 262.50,516.80 264.20,511.80 259.20,505.20 263.30,497.70 267.50,487.70 264.20,482.70 265.00,476.00 263.75,464.00 262.50,451.50 257.50,441.50 250.00,435.25 241.25,431.50 237.50,426.50 227.50,427.75 217.50,425.25 205.00,420.25 195.00,416.50 186.25,409.00 182.50,401.50 171.25,397.75 168.75,386.50 165.00,380.25 152.50,379.00 146.25,374.00 140.00,367.50 133.75,361.25 136.25,356.25 134.50,345.00 130.00,341.25 128.75,335.00 122.50,330.00 121.25,323.75 113.75,316.25 103.75,310.00 97.50,308.75 91.25,303.75 85.00,296.25 80.00,292.00 83.75,287.50 82.50,277.50 83.75,268.75 92.00,265.00 91.25,257.50 93.75,252.50 91.25,247.50 88.75,238.75 85.00,232.50 86.25,220.00 83.75,213.75 85.00,202.50 87.50,195.00 95.00,192.00 97.50,187.00"/>
</svg>
<svg class="map" id="txt" width="1056" height="816" viewBox="0 0 1056 816" font-family="'Liberation Sans',Arial,sans-serif" fill="#000">
<text id="t1" x="199.3" y="52.6" font-size="26" font-weight="bold" font-style="italic" textLength="265.2" lengthAdjust="spacing">U.S. Drought Monitor</text>
<text id="t2" x="111" y="102" font-size="42.2" font-weight="bold" textLength="440" lengthAdjust="spacing">Texas-Gulf Watershed</text>
<text id="t3" x="743.8" y="56.4" font-size="26" font-weight="bold" textLength="210.7" lengthAdjust="spacing">October 24, 2006</text>
<text id="t4" x="718.5" y="80.7" font-size="16" font-weight="bold" font-style="italic" textLength="263" lengthAdjust="spacing">(Released Thursday, Oct. 26, 2006)</text>
<text id="t5" x="788" y="103.6" font-size="16" font-weight="bold" textLength="122.7" lengthAdjust="spacing">Valid 8 a.m. EDT</text>
<text id="t6" x="758.3" y="340.8" font-size="18.3" font-style="italic" textLength="78" lengthAdjust="spacing">Intensity:</text>
<rect x="758" y="342.8" width="79" height="1" />
<text id="l0" x="810.4" y="370.6" font-size="13.8" textLength="33" lengthAdjust="spacing">None</text>
<text id="l1" x="810.4" y="399.6" font-size="13.8" textLength="117" lengthAdjust="spacing">D0 Abnormally Dry</text>
<text id="l2" x="810.4" y="428.4" font-size="13.8" textLength="135.6" lengthAdjust="spacing">D1 Moderate Drought</text>
<text id="l3" x="810.4" y="457.2" font-size="13.8" textLength="120.6" lengthAdjust="spacing">D2 Severe Drought</text>
<text id="l4" x="810.4" y="486" font-size="13.8" textLength="128.1" lengthAdjust="spacing">D3 Extreme Drought</text>
<text id="l5" x="810.4" y="514.8" font-size="13.8" textLength="149.6" lengthAdjust="spacing">D4 Exceptional Drought</text>
<text id="p1" x="759" y="551.2" font-size="13" font-style="italic" textLength="261.6" lengthAdjust="spacing">The Drought Monitor focuses on broad-scale</text>
<text id="p2" x="758.5" y="565.9" font-size="13" font-style="italic" textLength="279" lengthAdjust="spacing">conditions. Local conditions may vary. For more</text>
<text id="p3" x="759" y="581.2" font-size="13" font-style="italic" textLength="239.5" lengthAdjust="spacing">information on the Drought Monitor, go to</text>
<text id="p4" x="759" y="596.1" font-size="13" font-style="italic" textLength="243.8" lengthAdjust="spacing">https://droughtmonitor.unl.edu/About.aspx</text>
<text id="t7" x="758" y="645" font-size="18.3" font-style="italic" textLength="60.2" lengthAdjust="spacing">Author:</text>
<rect x="758" y="647" width="60.5" height="1" />
<text id="a1" x="758.5" y="668.9" font-size="13.8" textLength="79.5" lengthAdjust="spacing">Brad Rippey</text>
<text id="a2" x="758.5" y="688.2" font-size="13.8" textLength="196.6" lengthAdjust="spacing">U.S. Department of Agriculture</text>
<text id="t8" x="778" y="786.3" font-size="21.2" font-weight="bold" textLength="238" lengthAdjust="spacing">droughtmonitor.unl.edu</text>
<rect x="758.5" y="354.5" width="41" height="20" fill="#ffffff" stroke="#555" stroke-width="1"/>
<rect x="758.5" y="383.5" width="41" height="20" fill="#ffff00" stroke="#555" stroke-width="1"/>
<rect x="758.5" y="412.3" width="41" height="20" fill="#fcd37f" stroke="#555" stroke-width="1"/>
<rect x="758.5" y="441" width="41" height="20" fill="#ffaa00" stroke="#555" stroke-width="1"/>
<rect x="758.5" y="469.8" width="41" height="20" fill="#e60000" stroke="#555" stroke-width="1"/>
<rect x="758.5" y="498.6" width="41" height="20" fill="#730000" stroke="#555" stroke-width="1"/>
</svg>
<svg class="map" width="1056" height="816" viewBox="0 0 1056 816">
<!-- USDA -->
<g>
<text x="768.9" y="730.7" font-family="'Liberation Serif',serif" font-size="21.2" fill="#1c2a70" stroke="#1c2a70" stroke-width="0.45" textLength="48.8" lengthAdjust="spacingAndGlyphs">USDA</text>
<polygon points="769.1,743.5 790.7,737.8 799.2,737.3 817.7,737.2 817.7,749.8 769.1,749.8" fill="#125840"/>
<polygon points="817.7,733 817.7,734.8 801.5,735 791.3,736.7 781,738.4 777.1,738.7 783.9,736.7 795.8,734.4 803.8,733" fill="#125840"/>
<polygon points="769.1,733 775.9,733 781.6,734.1 781.6,734.8 769.1,734.8" fill="#125840"/>
<polygon points="769.1,736.1 779.9,736.1 779.9,737 772.5,737.3 769.1,737.8" fill="#125840"/>
</g>
<!-- NDMC -->
<g>
<circle cx="866.4" cy="733.6" r="23.6" fill="none" stroke="#3b2415" stroke-width="3.2" stroke-dasharray="1 1.8"/>
<circle cx="866.3" cy="733.5" r="21.2" fill="#fff"/>
<clipPath id="ndc"><circle cx="866.2" cy="733.5" r="20.6"/></clipPath>
<g clip-path="url(#ndc)">
<path d="M840 700 H892 V740 L885.8 740.2 L880.1 741.3 Q877.5 743.6 875.8 743.4 L870.1 742.7 Q866 740 864.4 739.2 Q861 737.6 859.5 738.1 L853.8 740.2 L847 741 L840 741Z" fill="#3d5a2c"/>
<path d="M846 741.2 L853.8 740.3 L859.5 738.2 Q861 737.7 864.4 739.3 Q866 740.1 870.1 742.8 L875.8 743.5 Q877.5 743.7 880.1 741.4 L886.5 740.3 L885.8 741 L880.1 743 L875.8 746.6 L871.5 747.4 L866.6 745.9 L862.3 743.8 L858.7 744.5 L855.2 747.4 L850.2 746.6Z" fill="#5b6bb5"/>
<path d="M855.2 748.1 L859.5 744.9 L863 745.2 L867.3 747.4 L873 748.1 L877.2 745.9 L881.5 743.1 L884.3 743.8 L880.1 749.5 L874.4 753 L867.3 754.5 L860.2 753Z" fill="#3e2417"/>
<path d="M859 748.8 L866 750.5 M868 748.6 L876 749.5 M872 751.3 L864 752.5" stroke="#fff" stroke-width="0.5" fill="none"/>
</g>
<text x="850.4" y="735.3" font-family="'Liberation Sans',sans-serif" font-weight="bold" font-size="14.4" fill="#fff" stroke="#fff" stroke-width="0.5" textLength="32" lengthAdjust="spacingAndGlyphs">NDMC</text>
</g>
<!-- DOC seal -->
<g>
<circle cx="938.4" cy="732.8" r="24.8" fill="#fff" stroke="#111" stroke-width="1.6"/>
<circle cx="938.4" cy="732.8" r="22.1" fill="none" stroke="#2d94dc" stroke-width="4.4"/>
<circle cx="938.4" cy="732.8" r="22.1" fill="none" stroke="#fff" stroke-width="1.7" stroke-dasharray="1.3 1.2" opacity="0.9"/>
<circle cx="938.4" cy="732.8" r="19.5" fill="none" stroke="#111" stroke-width="1.4"/>
<path d="M928.6 729.2 H948.9 V741.5 Q948 746 938.8 749 Q929.4 746 928.6 741.5Z" fill="#f4c63d" stroke="#222" stroke-width="0.5"/>
<path d="M928.6 729.2 H948.9 V738.2 H928.6Z" fill="#2d94dc"/>
<path d="M927.8 729.1 H949.6" stroke="#111" stroke-width="0.9"/>
<path d="M928.7 738.2 H948.8" stroke="#111" stroke-width="0.8"/>
<ellipse cx="938.3" cy="734.2" rx="6.3" ry="2.7" fill="#fff" stroke="#111" stroke-width="1"/>
<path d="M934.5 734.8 L942 733.4 M937 732.8 L939.5 736" stroke="#111" stroke-width="0.9" fill="none"/>
<path d="M938.7 738.5 V747 M936.6 748 H941" stroke="#111" stroke-width="1.3" fill="none"/>
<path d="M932.4 717.2 L936.8 723.5 L938 726.3 L941 726 L941.6 722.6 L945 718.2 L942.2 720.4 L939.6 722 L936.6 720.6Z" fill="#f1c232" stroke="#111" stroke-width="0.7"/>
<path d="M935.2 727.4 L942.8 727.6" stroke="#111" stroke-width="1"/>
</g>
<!-- NOAA -->
<g>
<circle cx="1011.4" cy="733.2" r="24" fill="none" stroke="#2a2f7f" stroke-width="1.3" stroke-dasharray="1.8 2.6"/>
<clipPath id="noc"><circle cx="1011.5" cy="733.3" r="20.6"/></clipPath>
<g clip-path="url(#noc)">
<rect x="985" y="708" width="54" height="50" fill="#1181c8"/>
<polygon points="989.1,711.1 995.1,720.7 1008.3,734.6 1012.6,736.7 1016.8,735.3 1020.4,731.0 1027.8,720.7 1034.6,711.1" fill="#fff"/>
<polygon points="995.1,720.7 1007.6,713.2 1016.1,713.2 1027.8,720.7 1020.4,731.0 1016.8,735.3 1012.6,736.7 1008.3,734.6" fill="#2a2f7f"/>
<polygon points="990.4,722.6 995.1,720.5 1008.3,734.4 1012.6,736.6 1016.8,735.1 1020.4,730.9 1028.1,720.5 1031.8,724.3 1024.6,731.9 1020.0,735.4 1019.1,737.4 1013.3,739.5 1006.9,742.1 1005.7,741.0 1010.8,738.4 1006.2,738.1 999.8,733.9 990.4,726.6" fill="#fff"/>
</g>
<text x="1001.4" y="725.8" font-family="'Liberation Sans',sans-serif" font-weight="bold" font-size="6.6" fill="#fff" stroke="#fff" stroke-width="0.3" textLength="18" lengthAdjust="spacingAndGlyphs">NOAA</text>
</g>
</svg>

</body>
</html>
